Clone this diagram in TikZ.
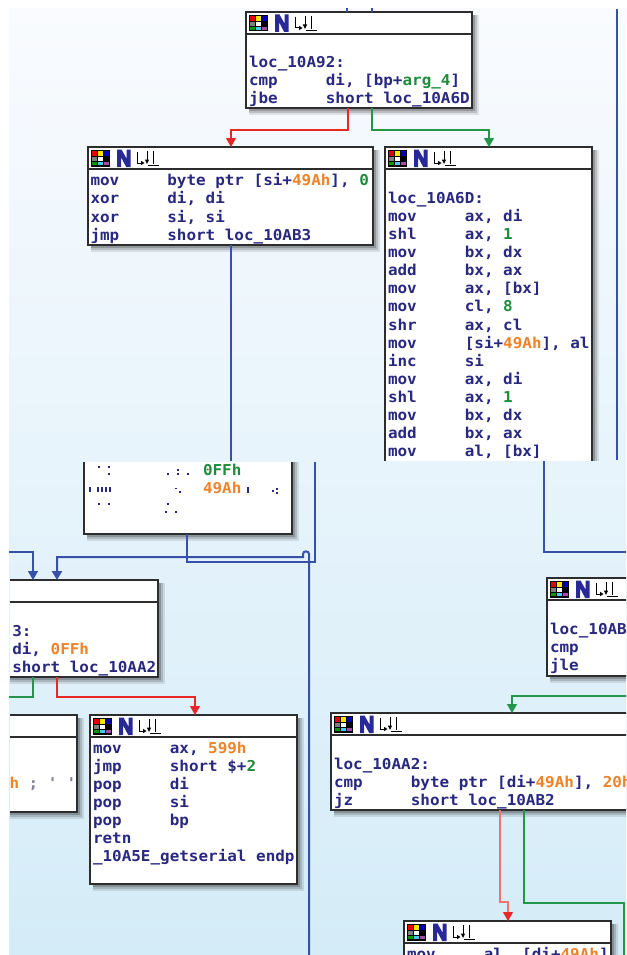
\documentclass[tikz,border=0pt]{standalone}
\usepackage{fontspec}
\newfontfamily\codefont{DejaVu Sans Mono}[FakeStretch=1.063]
\usetikzlibrary{arrows.meta}
\definecolor{navy}{RGB}{40,40,128}
\definecolor{numg}{RGB}{30,140,60}
\definecolor{numo}{RGB}{240,130,40}
\definecolor{cmt}{RGB}{130,130,150}
\definecolor{eblue}{RGB}{55,80,170}
\definecolor{ered}{RGB}{232,40,40}
\definecolor{eredl}{RGB}{238,115,115}
\definecolor{egreen}{RGB}{35,150,75}
\definecolor{bgtop}{RGB}{249,251,254}
\definecolor{bgbot}{RGB}{212,236,248}
\definecolor{nblue}{RGB}{40,40,150}
\definecolor{bordc}{RGB}{45,45,45}
\tikzset{
  boxst/.style={draw=bordc, line width=1.1pt, fill=white, inner sep=0pt, outer sep=0pt},
  hline/.style={draw=bordc, line width=1.1pt},
  code/.style={anchor=base west, inner sep=0pt, outer sep=0pt, font=\codefont\bfseries\fontsize{15}{18}\selectfont, text=navy},
  tip/.style={-{Triangle[width=10pt,length=9pt]}},
  rtip/.style={-{Triangle[width=10pt,length=9pt,color=ered]}},
  thinedge/.style={line width=1.1pt},
  boldedge/.style={line width=2pt}
}
\newcounter{tn}
\newcommand\tx[4][navy]{\stepcounter{tn}\node[code, text=#1] (t\thetn) at (#2,#3) {#4};}
\newcommand\ins[4]{\tx{#1}{#2}{#3}\tx{#1+76.8}{#2}{#4}}
\newcommand\ibox[5]{%
 \fill[black,opacity=.10] (#2+3,#3+3) rectangle (#4+7,#5+7);
 \fill[black,opacity=.15] (#2+3,#3+3) rectangle (#4+5,#5+5);
 \fill[black,opacity=.20] (#2+3,#3+3) rectangle (#4+3,#5+3);
 \node[boxst, anchor=north west, minimum width={#4-#2}, minimum height={#5-#3}] (#1) at (#2,#3) {};
 \draw[hline] (#2,#3+22) -- (#4,#3+22);
}
\newcommand\idahdr[2]{%
\begin{scope}[shift={(#1,#2)}]
\fill[black] (3,3) rectangle (22,19.5);
\fill[red!90!black] (4.3,4.3) rectangle (9.2,8.6);
\fill[yellow!90!orange] (10.2,4.3) rectangle (15,8.6);
\fill[blue!70!black] (16,4.3) rectangle (20.7,8.6);
\fill[gray] (4.3,9.6) rectangle (9.2,13.6);
\fill[white] (10.2,9.6) rectangle (15,13.6);
\fill[green!60!black] (4.3,14.6) rectangle (9.2,18.2);
\fill[cyan!70] (10.2,14.6) rectangle (15,18.2);
\fill[violet!70] (16,14.6) rectangle (20.7,18.2);
\fill[nblue] (29,20)--(29,2.5)--(33.5,2.5)--(38.5,11.5)--(38.5,2.5)--(42.5,2.5)--(42.5,20)--(38.2,20)--(33.2,10.5)--(33.2,20)--cycle;
\draw[black, line width=1pt] (49.5,5)--(49.5,16)--(54,16);
\fill[black] (53,13.8)--(56.5,16)--(53,18.2)--cycle;
\draw[black, line width=1pt] (59,4)--(59,13);
\fill[black] (56.8,12.5)--(61.2,12.5)--(59,17)--cycle;
\draw[black, line width=1pt] (65,4)--(65,17);
\draw[black, line width=1.6pt] (60,18.6)--(71,18.6);
\end{scope}}
\begin{document}
\begin{tikzpicture}[x=1pt,y=-1pt]
\useasboundingbox (0,0) rectangle (626,955);
\clip (0,0) rectangle (626,955);
\shade[top color=bgtop, bottom color=bgbot] (9,9) rectangle (630,960);

% free-standing edge pieces on the right
\coordinate (r1) at (617,9);
\coordinate (r2) at (617,460);
\draw[eblue, line width=1.5pt] (r1) -- (r2);
\coordinate (r3) at (544,460);
\coordinate (r4) at (630,552);
\draw[eblue, thinedge] (r3) |- (r4);

% ---------- Block A
\ibox{A}{246}{12}{472}{108}
\idahdr{246}{12}
\tx{249}{67.7}{loc\_10A92:}
\ins{249}{85.9}{cmp}{di, [bp+\textcolor{numg}{arg\_4}]}
\ins{249}{104}{jbe}{short loc\_10A6D}

% ---------- Block B
\ibox{B}{88}{147}{373}{245}
\idahdr{88}{147}
\ins{90.5}{185.7}{mov}{byte ptr [si+\textcolor{numo}{49Ah}], \textcolor{numg}{0}}
\ins{90.5}{203.9}{xor}{di, di}
\ins{90.5}{222}{xor}{si, si}
\ins{90.5}{240.2}{jmp}{short loc\_10AB3}

% ---------- Block C (cut at the bottom)
\begin{scope}
\clip (0,0) rectangle (626,460);
\ibox{C}{385}{147}{592}{520}
\idahdr{385}{147}
\tx{388}{203.3}{loc\_10A6D:}
\ins{388}{221.4}{mov}{ax, di}
\ins{388}{239.5}{shl}{ax, \textcolor{numg}{1}}
\ins{388}{257.6}{mov}{bx, dx}
\ins{388}{275.7}{add}{bx, ax}
\ins{388}{293.8}{mov}{ax, [bx]}
\ins{388}{311.9}{mov}{cl, \textcolor{numg}{8}}
\ins{388}{330}{shr}{ax, cl}
\ins{388}{348.1}{mov}{[si+\textcolor{numo}{49Ah}], al}
\ins{388}{366.2}{inc}{si}
\ins{388}{384.3}{mov}{ax, di}
\ins{388}{402.4}{shl}{ax, \textcolor{numg}{1}}
\ins{388}{420.5}{mov}{bx, dx}
\ins{388}{438.6}{add}{bx, ax}
\ins{388}{456.7}{mov}{al, [bx]}
\end{scope}

% ---------- Block D (cut at the top)
\begin{scope}
\clip (0,462) rectangle (626,955);
\ibox{D}{84}{380}{292}{534}
\end{scope}
\tx[numg]{203}{475.5}{0FFh}
\tx[numo]{203}{493.5}{49Ah}
\foreach \p in {(98,466),(108,466),(108,473),(167,473),(177,469),(177,473),(187,473),
  (175,487.5),(179,491),(272,490),(276,488),(276,492),(98,503),(108,503),(167,503),(165,511),(175,511)}
  {\fill[navy] \p rectangle ++(1.8,1.8);}
\foreach \xx in {89,97,101,105,109}{\fill[navy] (\xx,487) rectangle ++(1.8,5);}
\fill[navy] (247,487) rectangle ++(1.8,6);

% ---------- Block E (cut at the left)
\begin{scope}
\clip (10,0) rectangle (626,955);
\ibox{E}{-68}{580}{158}{677}
\tx{12.3}{636}{3:}
\tx{12.3}{654}{di, \textcolor{numo}{0FFh}}
\tx{12.3}{672}{short loc\_10AA2}
\end{scope}

% ---------- Block G (cut at the left)
\begin{scope}
\clip (10,0) rectangle (626,955);
\ibox{G}{-120}{715}{77}{812}
\tx[cmt]{9.5}{788}{\textcolor{numo}{h} ; \textquotesingle{} \textquotesingle}
\end{scope}

% ---------- Block F
\ibox{F}{90}{715}{297}{884}
\idahdr{90}{715}
\ins{93}{753}{mov}{ax, \textcolor{numo}{599h}}
\ins{93}{771.1}{jmp}{short \$+\textcolor{numg}{2}}
\ins{93}{789.2}{pop}{di}
\ins{93}{807.3}{pop}{si}
\ins{93}{825.4}{pop}{bp}
\tx{93}{843.5}{retn}
\tx{93}{861.6}{\_10A5E\_getserial endp}

% ---------- Block H
\ibox{H}{547}{578}{720}{676}
\idahdr{547}{578}
\tx{550}{634}{loc\_10AB}
\tx{550}{652}{cmp}
\tx{550}{670}{jle}

% ---------- Block I
\ibox{I}{331}{713}{720}{810}
\idahdr{331}{713}
\tx{334}{769}{loc\_10AA2:}
\ins{334}{787}{cmp}{byte ptr [di+\textcolor{numo}{49Ah}], \textcolor{numo}{20h}}
\ins{334}{805}{jz}{short loc\_10AB2}

% ---------- Block J
\ibox{J}{404}{921}{611}{1000}
\idahdr{404}{921}
\ins{407}{959}{mov}{al, [di+\textcolor{numo}{49Ah}]}

% ---------- connectors
\coordinate (tk1) at (347,8);
\coordinate (tk2) at (372,8);
\draw[eblue, thinedge] (tk1) -- ([xshift=101pt]A.north west);
\draw[eblue, thinedge] (tk2) -- ([xshift=126pt]A.north west);

\draw[ered, thinedge, tip] ([xshift=102pt]A.south west) -- ++(0,22) -| ([xshift=143pt]B.north west);
\draw[egreen, thinedge, tip] ([xshift=126pt]A.south west) -- ++(0,22) -| ([xshift=104pt]C.north west);

\coordinate (cutB) at (231,461);
\draw[eblue, thinedge] ([xshift=143pt]B.south west) -- (cutB);

\coordinate (cutD) at (315,462);
\draw[eblue, boldedge] ([xshift=103pt]D.south west) |- (315,562) -- (cutD);

\coordinate (bl) at (9,552);
\draw[eblue, line width=1.4pt, tip] (bl) -| ([xshift=101pt]E.north west);
\coordinate (bb) at (309,960);
\draw[eblue, boldedge, tip] (bb) -- (309,554) .. controls (309,550.5) and (303,550.5) .. (303,554) -- (303,557) -| ([xshift=125pt]E.north west);

\coordinate (gl) at (9,697);
\draw[egreen, thinedge] ([xshift=101pt]E.south west) |- (gl);
\draw[ered, thinedge, tip] ([xshift=125pt]E.south west) -- ++(0,20) -| ([xshift=105pt]F.north west);

\draw[egreen, thinedge, tip] ([xshift=100pt]H.south west) -- ++(0,20) -| ([xshift=181pt]I.north west);

\draw[eredl, thinedge, rtip] ([xshift=169pt]I.south west) -- ++(0,92) -| ([xshift=104pt]J.north west);
\coordinate (ge) at (624,960);
\draw[egreen, thinedge] ([xshift=193pt]I.south west) -- ++(0,93) -| (ge);
\end{tikzpicture}
\end{document}
